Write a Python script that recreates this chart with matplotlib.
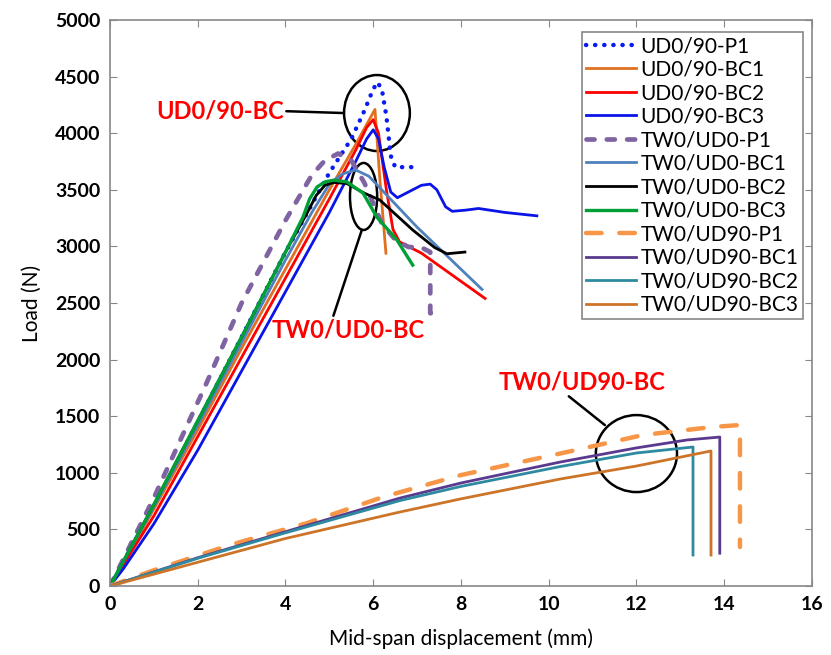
import numpy as np
import matplotlib
matplotlib.use("Agg")
import matplotlib.pyplot as plt
from matplotlib.patches import Ellipse

plt.rcParams['font.family'] = ['Lato', 'DejaVu Sans']

# ---- data: displacement (mm), load (N) ----
ud_p1_x = [0, 1, 2, 3, 4, 5, 5.5, 5.8, 6.0, 6.1, 6.2, 6.3, 6.4, 6.5, 7.0]
ud_p1_y = [0, 700, 1450, 2200, 2950, 3650, 3950, 4200, 4390, 4450, 4380, 4150, 3800, 3700, 3700]

ud_bc1_x = [0, 1, 2, 3, 4, 5, 5.6, 6.04, 6.15, 6.29]
ud_bc1_y = [0, 680, 1380, 2100, 2800, 3500, 3900, 4210, 3600, 2940]

ud_bc2_x = [0, 1, 2, 3, 4, 5, 5.6, 5.85, 6.0, 6.12, 6.3, 6.45, 6.6, 6.9, 7.1, 8.55]
ud_bc2_y = [0, 620, 1320, 2020, 2720, 3420, 3850, 4050, 4120, 4000, 3500, 3150, 3040, 2980, 2940, 2540]

ud_bc3_x = [0, 0.3, 1, 2, 3, 4, 5, 5.6, 5.85, 6.0, 6.12, 6.25, 6.4, 6.55, 6.8, 7.1, 7.3,
            7.45, 7.65, 7.8, 8.1, 8.4, 9.0, 9.73]
ud_bc3_y = [0, 150, 550, 1200, 1900, 2600, 3300, 3750, 3950, 4030, 3950, 3700, 3480, 3430, 3480,
            3540, 3550, 3500, 3350, 3310, 3320, 3335, 3300, 3270]

tw0_p1_x = [0, 1, 2.2, 3, 4, 4.6, 4.9, 5.2, 5.5, 5.8, 6.2, 6.5, 6.8, 7.1, 7.3, 7.3, 7.5]
tw0_p1_y = [0, 780, 1793, 2500, 3230, 3630, 3760, 3820, 3760, 3560, 3200, 3060, 2995, 2990, 2950, 2410, 2400]

tw0_bc1_x = [0, 1, 2, 3, 4, 4.6, 5.0, 5.3, 5.6, 5.9, 7.0, 8.48]
tw0_bc1_y = [0, 700, 1420, 2150, 2880, 3300, 3550, 3640, 3675, 3620, 3170, 2620]

tw0_bc2_x = [0, 1, 2, 3, 4, 4.5, 4.7, 4.9, 5.1, 5.4, 5.8, 6.15, 6.9, 7.4, 7.68, 8.09]
tw0_bc2_y = [0, 720, 1460, 2200, 2950, 3300, 3450, 3540, 3565, 3555, 3470, 3410, 3145, 2990, 2935, 2950]

tw0_bc3_x = [0, 1, 2, 3, 4, 4.4, 4.55, 4.72, 4.9, 5.1, 5.4, 5.77, 6.08, 6.54, 6.9]
tw0_bc3_y = [0, 720, 1460, 2200, 2950, 3260, 3420, 3525, 3570, 3585, 3570, 3470, 3260, 3057, 2835]

tw90_p1_x = [0, 1, 2.73, 4.49, 6.22, 8, 10.42, 12.15, 13.74, 14.36, 14.36]
tw90_p1_y = [0, 140, 362, 556, 786, 980, 1184, 1334, 1405, 1422, 345]

tw90_bc1_x = [0, 2, 4, 6.61, 8, 10.26, 12, 13.15, 13.9, 13.9]
tw90_bc1_y = [0, 250, 480, 777, 910, 1095, 1220, 1290, 1316, 290]

tw90_bc2_x = [0, 2, 4, 6.61, 8, 10.26, 12, 13.29, 13.29]
tw90_bc2_y = [0, 245, 470, 755, 880, 1055, 1175, 1228, 274]

tw90_bc3_x = [0, 2, 4, 6.61, 8, 10.26, 12, 13.7, 13.7]
tw90_bc3_y = [0, 210, 420, 654, 770, 945, 1060, 1193, 274]

labels = ['UD0/90-P1', 'UD0/90-BC1', 'UD0/90-BC2', 'UD0/90-BC3',
          'TW0/UD0-P1', 'TW0/UD0-BC1', 'TW0/UD0-BC2', 'TW0/UD0-BC3',
          'TW0/UD90-P1', 'TW0/UD90-BC1', 'TW0/UD90-BC2', 'TW0/UD90-BC3']

series = [(ud_p1_x, ud_p1_y), (ud_bc1_x, ud_bc1_y), (ud_bc2_x, ud_bc2_y), (ud_bc3_x, ud_bc3_y),
          (tw0_p1_x, tw0_p1_y), (tw0_bc1_x, tw0_bc1_y), (tw0_bc2_x, tw0_bc2_y), (tw0_bc3_x, tw0_bc3_y),
          (tw90_p1_x, tw90_p1_y), (tw90_bc1_x, tw90_bc1_y), (tw90_bc2_x, tw90_bc2_y), (tw90_bc3_x, tw90_bc3_y)]

# styles: colour, linestyle, width
styles = [('#0a1cf0', (0, (0.05, 2.0)), 3.2),
          ('#e07020', '-', 2.0),
          ('#ff0000', '-', 2.0),
          ('#0a14e6', '-', 2.0),
          ('#8064a2', (0, (1.7, 2.6)), 3.4),
          ('#4f81bd', '-', 2.0),
          ('#000000', '-', 2.0),
          ('#00a036', '-', 2.4),
          ('#f79646', (0, (3.5, 4.0)), 3.2),
          ('#5a3a8e', '-', 2.0),
          ('#2e8aa0', '-', 2.0),
          ('#cc7428', '-', 2.0)]

fig = plt.figure(figsize=(8.31, 6.55), dpi=100)
ax = fig.add_axes([0.1324, 0.1053, 0.8446, 0.8642])

for (x, y), lab, (c, ls, lw) in zip(series, labels, styles):
    ln, = ax.plot(x, y, color=c, lw=lw, label=lab, solid_joinstyle='round')
    ln.set_linestyle(ls)
    if ls != '-':
        ln.set_dash_capstyle('round')

ax.set_xlim(0, 16)
ax.set_ylim(0, 5000)
ax.set_xticks(np.arange(0, 17, 2))
ax.set_yticks(np.arange(0, 5001, 500))
ax.tick_params(direction='in', top=True, right=True, length=5, color='#888888',
               labelsize=14, pad=7)
for t in ax.get_xticklabels() + ax.get_yticklabels():
    t.set_fontweight('bold')
for s in ax.spines.values():
    s.set_color('#888888')
    s.set_linewidth(1.2)

ax.set_xlabel('Mid-span displacement (mm)', fontsize=15, labelpad=11)
ax.set_ylabel('Load (N)', fontsize=15, labelpad=9)

# ellipses and callouts
ax.add_patch(Ellipse((6.085, 4178), 1.5, 671, fill=False, ec='black', lw=1.8))
ax.add_patch(Ellipse((5.78, 3441), 0.62, 592, fill=False, ec='black', lw=1.8))
ax.add_patch(Ellipse((12.0, 1170), 1.85, 680, fill=False, ec='black', lw=1.8))

ap = dict(arrowstyle='-', color='black', lw=1.8, shrinkA=0, shrinkB=0)
ax.annotate('UD0/90-BC', xy=(5.32, 4178), xytext=(2.5, 4195), color='#ff0000',
            fontsize=17, fontweight='bold', ha='center', va='center',
            arrowprops=dict(ap, relpos=(1.0, 0.5)))
ax.annotate('TW0/UD0-BC', xy=(5.74, 3145), xytext=(5.42, 2261), color='#ff0000',
            fontsize=17, fontweight='bold', ha='center', va='center',
            arrowprops=dict(ap, relpos=(0.4, 1.0)))
ax.annotate('TW0/UD90-BC', xy=(11.28, 1422), xytext=(10.76, 1802), color='#ff0000',
            fontsize=17, fontweight='bold', ha='center', va='center',
            arrowprops=dict(ap, relpos=(0.4, 0.0)))

leg = ax.legend(loc='upper right', bbox_to_anchor=(0.987, 0.979), fontsize=15,
                frameon=True, fancybox=False, framealpha=1, edgecolor='#888888',
                handlelength=2.4, handletextpad=0.2, labelspacing=0.17,
                borderpad=0.2, borderaxespad=0)
leg.get_frame().set_linewidth(1.2)

fig.savefig('out.png', dpi=100)
